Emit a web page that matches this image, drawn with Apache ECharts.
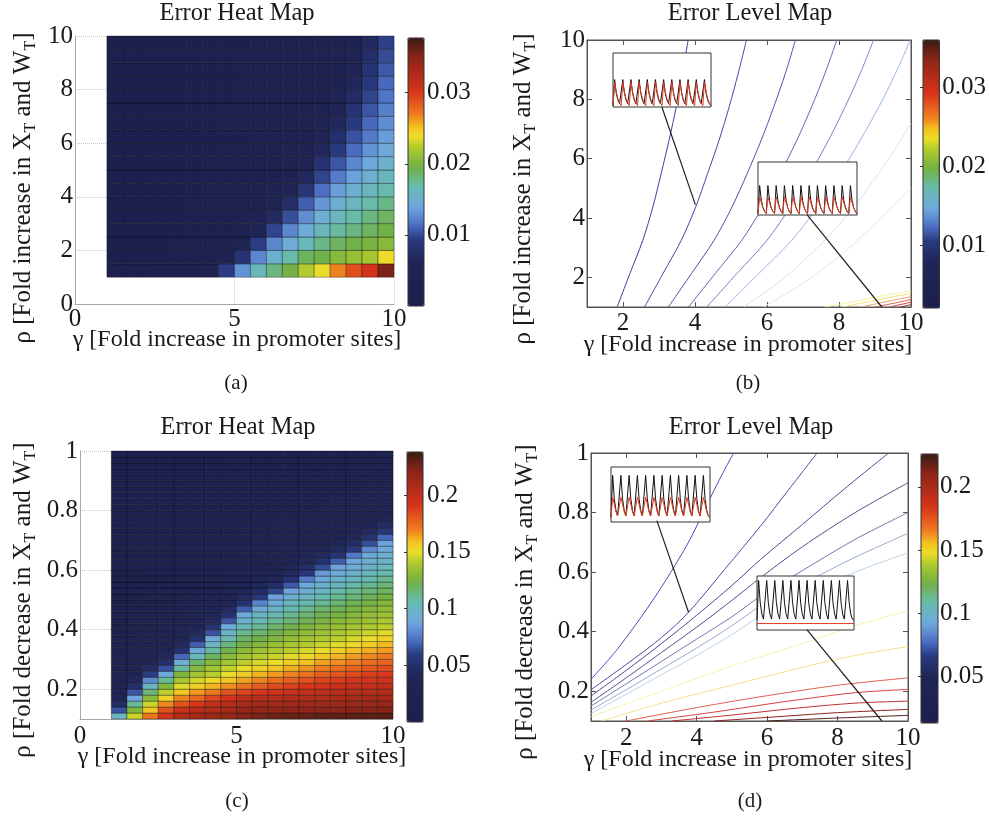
<!DOCTYPE html>
<html>
<head>
<meta charset="utf-8">
<script src="https://cdn.jsdelivr.net/npm/echarts@6/dist/echarts.min.js"></script>
<style>
html,body{margin:0;padding:0;background:#fff;}
#chart{width:989px;height:822px;}
</style>
</head>
<body>
<div id="chart"></div>
<script>
// ---------- grid edges of the two heat maps ----------
const gammaEdges = [1,1.5,2,2.5,3,3.5,4,4.5,5,5.5,6,6.5,7,7.5,8,8.5,9,9.5,10];
const rhoEdgesA = [1,1.5,2,2.5,3,3.5,4,4.5,5,5.5,6,6.5,7,7.5,8,8.5,9,9.5,10];
const rhoEdgesC = [0.1,0.12,0.14,0.16,0.18,0.2,0.22,0.24,0.26,0.28,0.3,0.32,0.34,0.36,0.38,0.4,
  0.42,0.44,0.46,0.48,0.5,0.52,0.54,0.56,0.58,0.6,0.62,0.64,0.66,0.68,0.7,0.72,0.74,0.76,0.78,
  0.8,0.82,0.84,0.86,0.88,0.9,0.92,0.94,0.96,0.98,1.0];

// ---------- panel (a): error, in units of 1e-3; one row per rho cell (bottom to top), one value per gamma cell ----------
const errA = [
  [1.2,1.2,1.4,1.6,1.8,2.2,3.5,9.5,13,16.2,18,19.6,22.2,23.8,26.8,29,30.5,35.5],
  [1.1,1.1,1.3,1.5,1.7,2,2.6,4,8.5,12.5,15,17,19,19.5,20.5,21.2,21.8,24],
  [1,1,1.2,1.4,1.6,1.9,2.3,3,5,9.5,12.5,14.5,16.3,17.8,18.8,19.5,20,20.5],
  [1,1,1.1,1.3,1.5,1.8,2.1,2.6,3.5,6,9.8,12.5,14.5,16,17.2,18,18.8,19.5],
  [1,1,1.1,1.2,1.4,1.7,2,2.4,3,4.5,7.2,10.2,12.8,14.8,16,17,18,18.8],
  [1,1,1,1.2,1.4,1.6,1.9,2.2,2.7,3.4,4.8,7.8,10.8,13.2,15,16,17,17.8],
  [1,1,1,1.1,1.3,1.5,1.8,2.1,2.5,3,4,6,8.8,11.5,13.5,15,16,16.8],
  [1,1,1,1.1,1.2,1.4,1.7,2,2.3,2.7,3.4,4.5,7,9.8,12,13.7,15,16],
  [1,1,1,1,1.2,1.4,1.6,1.9,2.2,2.6,3.1,3.8,5.5,8.3,10.5,12.5,14,15.2],
  [1,1,1,1,1.1,1.3,1.5,1.8,2.1,2.5,2.9,3.5,4.5,6.8,9.2,11.3,13,14.3],
  [1,1,1,1,1.1,1.3,1.5,1.7,2,2.4,2.8,3.3,4,5.8,8,10.3,12,13.5],
  [1,1,1,1,1.1,1.2,1.4,1.6,1.9,2.3,2.7,3.1,3.7,4.8,6.8,9.2,11.2,12.8],
  [1,1,1,1,1,1.2,1.4,1.6,1.9,2.2,2.6,3,3.5,4.2,6,8.3,10.5,12.2],
  [1,1,1,1,1,1.2,1.3,1.5,1.8,2.1,2.5,2.9,3.4,4,5.2,7.4,9.8,11.7],
  [1,1,1,1,1,1.1,1.3,1.5,1.7,2,2.4,2.8,3.3,3.8,4.6,6.6,9.1,11.2],
  [1,1,1,1,1,1.1,1.2,1.4,1.6,1.9,2.3,2.7,3.2,3.7,4.4,6,8.4,10.6],
  [1,1,1,1,1,1.1,1.2,1.4,1.6,1.9,2.2,2.6,3.1,3.6,4.2,5.4,7.8,10.1],
  [1,1,1,1,1,1,1.2,1.3,1.5,1.8,2.1,2.5,3,3.5,4,4.7,7.2,9.6]
];

// ---------- panel (c): error, in units of 1e-3; one column per gamma cell, values from rho = 0.1 upward ----------
const errC = [
  [100,65,48,40,35,31,28,26,24,22,21,20,19,18,17,16,15,14,13,13,12,12,11,11,10,10,10,9,9,9,9,8,8,8,8,8,7,7,7,7,7,7,6,6,6],
  [145,128,110,88,66,50,41,36,32,29,27,25,23,22,21,20,19,18,17,16,15,15,14,13,13,12,12,11,11,11,10,10,10,9,9,9,9,8,8,8,8,8,7,7,7],
  [172,158,145,130,115,98,80,60,47,40,35,32,29,27,25,23,22,21,20,19,18,17,16,15,15,14,13,13,12,12,11,11,11,10,10,10,9,9,9,9,8,8,8,8,8],
  [192,182,168,154,143,128,110,90,65,50,43,38,35,32,29,27,25,23,22,21,20,19,18,17,16,15,14,14,13,12,12,11,11,11,10,10,10,9,9,9,9,8,8,8,8],
  [205,196,182,169,157,148,138,128,109,93,70,52,45,40,36,33,30,28,26,24,22,21,20,19,18,17,16,15,14,14,13,12,12,11,11,11,10,10,10,9,9,9,9,8,8],
  [210,202,190,175,165,155,146,137,129,117,103,90,68,52,45,40,36,33,30,28,26,24,22,21,20,19,18,17,16,15,14,14,13,12,12,11,11,11,10,10,10,9,9,9,9],
  [213,206,199,185,171,161,152,142,137,129,119,109,100,91,65,52,45,40,36,33,30,28,26,24,22,21,20,19,18,17,16,15,14,14,13,12,12,11,11,11,10,10,10,9,9],
  [216,210,204,192,181,167,158,151,144,137,130,122,114,106,98,90,66,52,45,40,36,33,30,28,26,24,22,21,20,19,18,17,16,15,14,14,13,12,12,11,11,11,10,10,10],
  [222,216,209,200,186,173,164,156,150,143,137,130,124,118,111,104,97,90,68,53,46,41,37,34,31,28,26,24,22,21,20,19,18,17,16,15,14,14,13,12,12,11,11,11,10],
  [225,216,210,203,191,179,169,161,154,147,141,135,129,123,117,110,104,98,91,78,58,48,42,38,34,31,29,27,25,23,22,21,20,19,18,17,16,16,15,14,14,13,13,12,12],
  [227,217,211,205,194,184,174,165,158,151,145,139,134,128,122,117,111,104,98,92,86,62,50,44,39,35,32,30,28,26,24,23,22,21,20,19,18,17,16,16,15,14,14,13,13],
  [228,218,212,206,197,187,178,169,162,155,149,143,138,133,128,122,116,111,105,100,94,88,67,53,46,41,37,34,31,29,27,25,23,22,21,20,19,18,17,16,16,15,14,14,13],
  [229,218,212,206,199,190,182,173,166,159,153,147,141,137,132,127,121,116,111,105,100,94,89,76,58,48,42,38,34,31,29,27,25,23,22,21,20,19,18,17,16,16,15,14,14],
  [230,219,213,207,201,193,186,178,170,164,157,151,145,140,135,131,126,121,116,110,105,100,95,90,84,64,52,45,40,36,33,30,28,26,24,22,21,20,19,18,17,16,16,15,14],
  [230,219,213,208,202,195,188,181,174,167,161,155,149,143,139,134,130,125,120,116,111,106,101,96,91,87,68,54,46,41,37,34,31,28,26,24,22,21,20,19,18,17,16,16,15],
  [231,220,214,209,203,197,191,184,177,170,165,159,153,147,142,137,133,129,125,120,115,111,106,101,97,92,88,75,58,48,42,37,34,31,28,26,24,22,21,20,19,18,17,16,16],
  [231,220,215,210,204,198,192,187,180,174,168,162,156,151,145,140,136,133,129,124,120,115,111,106,102,97,93,89,80,64,52,45,40,36,33,30,28,26,24,22,21,20,19,18,17],
  [232,221,216,210,205,200,194,189,183,177,171,165,160,154,149,143,139,135,132,128,124,119,115,111,106,102,98,94,90,86,70,56,47,41,37,34,31,28,26,24,22,21,20,19,18]
];

// ---------- colour-bar ranges and ticks ----------
const rangeA = [0, 0.0377], ticksA = [0.01, 0.02, 0.03];
const rangeB = [0.002, 0.036], ticksB = [0.01, 0.02, 0.03];
const rangeC = [0, 0.238], ticksC = [0.05, 0.1, 0.15, 0.2];
const rangeD = [0.013, 0.226], ticksD = [0.05, 0.1, 0.15, 0.2];

// ---------- panel (b): error level lines [gamma, rho] ----------
const bLevel1 = [[1.84,1],[2.19,2.125],[2.55,3.25],[2.83,4.375],[3.06,5.5],[3.28,6.625],[3.48,7.75],[3.65,8.875],[3.81,10]];
const bLevel2 = [[2.6,1],[3.11,2.125],[3.62,3.25],[4.02,4.375],[4.35,5.5],[4.67,6.625],[4.95,7.75],[5.2,8.875],[5.43,10]];
const bLevel3 = [[3.26,1],[3.9,2.125],[4.53,3.25],[5.03,4.375],[5.45,5.5],[5.84,6.625],[6.19,7.75],[6.51,8.875],[6.79,10]];
const bLevel4 = [[3.82,1],[4.56,2.125],[5.3,3.25],[5.88,4.375],[6.37,5.5],[6.83,6.625],[7.24,7.75],[7.61,8.875],[7.94,10]];
const bLevel5 = [[4.33,1],[5.16,2.125],[6.0,3.25],[6.65,4.375],[7.2,5.5],[7.71,6.625],[8.17,7.75],[8.59,8.875],[8.96,10]];
const bLevel6 = [[4.84,1],[5.77,2.125],[6.69,3.25],[7.41,4.375],[8.03,5.5],[8.59,6.625],[9.11,7.75],[9.57,8.875],[9.98,10]];
const bLevel7 = [[5.35,1],[6.4,1.9],[7.4,3.0],[8.3,4.2],[9.1,5.5],[9.6,6.4],[10,7.2]];
const bLevel8 = [[5.9,1],[7.0,1.8],[8.0,2.7],[9.0,3.8],[10,5.0]];
const bLevel9 = [[7.6,1],[8.5,1.2],[9.3,1.4],[10,1.55]];
const bLevel10 = [[8.1,1],[8.9,1.2],[9.5,1.35],[10,1.45]];
const bLevel11 = [[8.6,1],[9.2,1.15],[10,1.35]];
const bLevel12 = [[9.0,1],[9.5,1.12],[10,1.25]];
const bLevel13 = [[9.4,1],[10,1.16]];
const bLevel14 = [[9.7,1],[10,1.08]];

// ---------- panel (d): error level lines [gamma, rho] ----------
const dLevel1 = [[1,0.24],[1.74,0.34],[2.78,0.51],[3.72,0.69],[4.39,0.85],[4.73,0.93],[5.05,1]];
const dLevel2 = [[1,0.205],[2,0.29],[3,0.38],[3.77,0.465],[4.8,0.61],[5.81,0.754],[6.6,0.875],[7.42,1]];
const dLevel3 = [[1,0.184],[2,0.27],[3,0.36],[4,0.455],[5,0.555],[5.81,0.642],[7,0.76],[8.2,0.88],[9.45,1]];
const dLevel4 = [[1,0.163],[2,0.245],[3,0.33],[4,0.415],[5,0.505],[5.81,0.581],[7,0.685],[8.5,0.8],[10,0.9]];
const dLevel5 = [[1,0.15],[2,0.225],[3,0.3],[4,0.375],[5,0.45],[5.81,0.519],[7,0.605],[8.5,0.71],[10,0.8]];
const dLevel6 = [[1,0.137],[2,0.205],[3,0.275],[4,0.345],[5,0.42],[5.81,0.486],[7,0.56],[8.5,0.65],[10,0.73]];
const dLevel7 = [[1,0.125],[2,0.19],[3,0.255],[4,0.32],[5,0.39],[5.81,0.452],[7,0.52],[8.5,0.6],[10,0.665]];
const dLevel8 = [[1,0.115],[3,0.2],[5,0.285],[7,0.36],[8.5,0.42],[10,0.47]];
const dLevel9 = [[1.3,0.1],[3,0.16],[5,0.22],[7,0.28],[8.5,0.32],[10,0.35]];
const dLevel10 = [[2,0.1],[4,0.145],[6,0.185],[8,0.22],[10,0.245]];
const dLevel11 = [[2.6,0.1],[4.5,0.13],[6.5,0.165],[8.5,0.195],[10,0.206]];
const dLevel12 = [[3.3,0.1],[5,0.12],[7,0.145],[8.5,0.16],[10,0.167]];
const dLevel13 = [[4.5,0.1],[6,0.112],[8,0.128],[10,0.139]];
const dLevel14 = [[6,0.1],[8,0.11],[10,0.119]];

// ---------- pointers from the inset traces to a point of the parameter plane ----------
const bPointer1 = [[3.08,7.74],[4.01,4.45]];
const bPointer2 = [[7.11,4.11],[9.19,1.0]];
const dPointer1 = [[2.87,0.773],[3.77,0.465]];
const dPointer2 = [[7.13,0.407],[9.26,0.1]];

// ---------- inset time traces (arbitrary units) ----------
const insetB1Black = [0.05,1,0.5,0.25,0.12,0.05,1,0.5,0.25,0.12,0.05,1,0.5,0.25,0.12,0.05,1,0.5,0.25,0.12,0.05,1,0.5,0.25,0.12,0.05,1,0.5,0.25,0.12,0.05,1,0.5,0.25,0.12,0.05,1,0.5,0.25,0.12,0.05,1,0.5,0.25,0.12,0.05,1,0.5,0.25,0.12,0.05,1,0.5,0.25,0.12,0.05,1,0.5,0.25,0.12,0.05];
const insetB1Red = [0.05,0.9,0.55,0.3,0.15,0.05,0.9,0.55,0.3,0.15,0.05,0.9,0.55,0.3,0.15,0.05,0.9,0.55,0.3,0.15,0.05,0.9,0.55,0.3,0.15,0.05,0.9,0.55,0.3,0.15,0.05,0.9,0.55,0.3,0.15,0.05,0.9,0.55,0.3,0.15,0.05,0.9,0.55,0.3,0.15,0.05,0.9,0.55,0.3,0.15,0.05,0.9,0.55,0.3,0.15,0.05,0.9,0.55,0.3,0.15,0.05];
const insetB2Black = [0.05,1,0.5,0.25,0.12,0.05,1,0.5,0.25,0.12,0.05,1,0.5,0.25,0.12,0.05,1,0.5,0.25,0.12,0.05,1,0.5,0.25,0.12,0.05,1,0.5,0.25,0.12,0.05,1,0.5,0.25,0.12,0.05,1,0.5,0.25,0.12,0.05,1,0.5,0.25,0.12,0.05,1,0.5,0.25,0.12,0.05,1,0.5,0.25,0.12,0.05,1,0.5,0.25,0.12,0.05];
const insetB2Red = [0.05,0.62,0.42,0.25,0.12,0.05,0.62,0.42,0.25,0.12,0.05,0.62,0.42,0.25,0.12,0.05,0.62,0.42,0.25,0.12,0.05,0.62,0.42,0.25,0.12,0.05,0.62,0.42,0.25,0.12,0.05,0.62,0.42,0.25,0.12,0.05,0.62,0.42,0.25,0.12,0.05,0.62,0.42,0.25,0.12,0.05,0.62,0.42,0.25,0.12,0.05,0.62,0.42,0.25,0.12,0.05,0.62,0.42,0.25,0.12,0.05];
const insetD1Black = [0.1,1,0.5,0.25,0.13,0.1,1,0.5,0.25,0.13,0.1,1,0.5,0.25,0.13,0.1,1,0.5,0.25,0.13,0.1,1,0.5,0.25,0.13,0.1,1,0.5,0.25,0.13,0.1,1,0.5,0.25,0.13,0.1,1,0.5,0.25,0.13,0.1,1,0.5,0.25,0.13,0.1,1,0.5,0.25,0.13,0.1,1,0.5,0.25,0.13,0.1,1,0.5,0.25,0.13,0.1];
const insetD1Red = [0.1,0.53,0.38,0.22,0.13,0.1,0.53,0.38,0.22,0.13,0.1,0.53,0.38,0.22,0.13,0.1,0.53,0.38,0.22,0.13,0.1,0.53,0.38,0.22,0.13,0.1,0.53,0.38,0.22,0.13,0.1,0.53,0.38,0.22,0.13,0.1,0.53,0.38,0.22,0.13,0.1,0.53,0.38,0.22,0.13,0.1,0.53,0.38,0.22,0.13,0.1,0.53,0.38,0.22,0.13,0.1,0.53,0.38,0.22,0.13,0.1];
const insetD2Black = [0.2,1,0.55,0.32,0.22,0.2,1,0.55,0.32,0.22,0.2,1,0.55,0.32,0.22,0.2,1,0.55,0.32,0.22,0.2,1,0.55,0.32,0.22,0.2,1,0.55,0.32,0.22,0.2,1,0.55,0.32,0.22,0.2,1,0.55,0.32,0.22,0.2,1,0.55,0.32,0.22,0.2,1,0.55,0.32,0.22,0.2,1,0.55,0.32,0.22,0.2,1,0.55,0.32,0.22,0.2];
const insetD2Red = [0.13,0.13,0.13,0.13,0.13,0.13,0.13,0.13,0.13,0.13,0.13,0.13,0.13];
const insetYMax = [1.97, 1.8, 1.18, 1.09];

// ---------- styling ----------
const SERIF = "'Liberation Serif','Times New Roman',serif";
const INK = '#1a1a1a';
const cmapStops = [[0,'#1c1f4c'],[0.17,'#1f2556'],[0.25,'#2a3a80'],[0.30,'#4a6cc0'],[0.37,'#70a8e0'],
  [0.445,'#66bcb0'],[0.52,'#72b044'],[0.595,'#b4cc2c'],[0.63,'#ece02a'],[0.67,'#f4c020'],
  [0.71,'#f08020'],[0.80,'#d8341c'],[0.93,'#8a2418'],[1,'#3a1c14']];
function hexRgb(h) { return [1,3,5].map(i => parseInt(h.slice(i, i + 2), 16)); }
function palette(n) {
  const out = [];
  for (let k = 0; k < n; k++) {
    const t = k / (n - 1);
    let s = 0;
    while (s < cmapStops.length - 2 && t > cmapStops[s + 1][0]) s++;
    const a = hexRgb(cmapStops[s][1]), b = hexRgb(cmapStops[s + 1][1]);
    const f = (t - cmapStops[s][0]) / (cmapStops[s + 1][0] - cmapStops[s][0]);
    out.push('rgb(' + a.map((v, i) => Math.round(v + (b[i] - v) * f)).join(',') + ')');
  }
  return out;
}
const jet = palette(61);

// heat cells: [gammaLo, rhoLo, value, gammaHi, rhoHi]
function cellsFromRows(rows, gEdges, rEdges) {
  const out = [];
  rows.forEach((row, j) => row.forEach((v, i) => out.push([gEdges[i], rEdges[j], v / 1000, gEdges[i + 1], rEdges[j + 1]])));
  return out;
}
function cellsFromCols(cols, gEdges, rEdges) {
  const out = [];
  cols.forEach((col, i) => col.forEach((v, j) => out.push([gEdges[i], rEdges[j], v / 1000, gEdges[i + 1], rEdges[j + 1]])));
  return out;
}
function drawCell(params, api) {
  const p0 = api.coord([api.value(0), api.value(1)]);
  const p1 = api.coord([api.value(3), api.value(4)]);
  return {
    type: 'rect',
    shape: { x: p0[0], y: p1[1], width: p1[0] - p0[0], height: p0[1] - p1[1] },
    style: { fill: api.visual('color'), stroke: 'rgba(0,0,0,0.5)', lineWidth: 0.7 }
  };
}

const tickFont = { fontSize: 25, fontFamily: SERIF, color: INK };
const greyAxis = { show: true, onZero: false, lineStyle: { color: '#a8a8a8', width: 1 } };
const boxAxis = { show: true, onZero: false, lineStyle: { color: '#555', width: 1 } };
const dotted = { show: true, lineStyle: { color: '#c4c4c4', type: 'dotted', width: 1 } };

function boxXAxis(grid, pos, vals, showLabel, margin) {
  return { gridIndex: grid, type: 'value', position: pos, min: 1, max: 10,
    axisLine: boxAxis, splitLine: { show: false },
    axisTick: { show: true, inside: true, length: 5, customValues: vals, lineStyle: { color: '#555' } },
    axisLabel: Object.assign({ show: showLabel, customValues: vals, margin: margin }, tickFont) };
}
function boxYAxis(grid, pos, min, max, vals, showLabel) {
  return { gridIndex: grid, type: 'value', position: pos, min: min, max: max,
    axisLine: boxAxis, splitLine: { show: false },
    axisTick: { show: true, inside: true, length: 5, customValues: vals, lineStyle: { color: '#555' } },
    axisLabel: Object.assign({ show: showLabel, customValues: vals, margin: 2 }, tickFont) };
}
function barYAxis(grid, range, vals, margin) {
  return { gridIndex: grid, type: 'value', position: 'right', min: range[0], max: range[1], z: 6,
    axisLine: { show: false }, splitLine: { show: false },
    axisTick: { show: true, inside: true, length: 3, customValues: vals, lineStyle: { color: '#333' } },
    axisLabel: Object.assign({ customValues: vals, margin: margin }, tickFont) };
}
const hiddenX = (g, min, max) => ({ gridIndex: g, type: 'value', min: min, max: max, show: false });
const hiddenY = (g, min, max) => ({ gridIndex: g, type: 'value', min: min, max: max, show: false });

function levelLine(data, color, xi, yi) {
  return { type: 'line', xAxisIndex: xi, yAxisIndex: yi, data: data, symbol: 'none', smooth: 0.3,
    z: 1, silent: true, lineStyle: { color: color, width: 1 } };
}
function pointer(data, xi, yi) {
  return { type: 'line', xAxisIndex: xi, yAxisIndex: yi, data: data, symbol: 'none', z: 5,
    silent: true, lineStyle: { color: '#222', width: 1.2 } };
}
function trace(values, step, color, idx) {
  return { type: 'line', xAxisIndex: idx, yAxisIndex: idx, data: values.map((v, k) => [k * step, v]),
    symbol: 'none', z: 4, silent: true, lineStyle: { color: color, width: 1 } };
}

const bLevels = [[bLevel1,'#3c3ca8'],[bLevel2,'#4444b0'],[bLevel3,'#4c50b4'],[bLevel4,'#5a64b8'],
  [bLevel5,'#7482c4'],[bLevel6,'#98b4dc'],[bLevel7,'#cfe6ee'],[bLevel8,'#dcecd4'],[bLevel9,'#f4f0a0'],
  [bLevel10,'#f4e070'],[bLevel11,'#f0a060'],[bLevel12,'#e06050'],[bLevel13,'#c84040'],[bLevel14,'#803028']];
const dLevels = [[dLevel1,'#4a4ac0'],[dLevel2,'#4a4aa8'],[dLevel3,'#4a4a90'],[dLevel4,'#50508a'],
  [dLevel5,'#7078b0'],[dLevel6,'#98a8d0'],[dLevel7,'#c0d4e8'],[dLevel8,'#f6f2b0'],[dLevel9,'#f4e08a'],
  [dLevel10,'#e06050'],[dLevel11,'#d84040'],[dLevel12,'#c03030'],[dLevel13,'#902020'],[dLevel14,'#502018']];

const series = [
  { type: 'custom', xAxisIndex: 0, yAxisIndex: 0, renderItem: drawCell, z: 2, silent: true,
    encode: { x: [0, 3], y: [1, 4] }, data: cellsFromRows(errA, gammaEdges, rhoEdgesA) },
  { type: 'custom', xAxisIndex: 3, yAxisIndex: 3, renderItem: drawCell, z: 2, silent: true,
    encode: { x: [0, 3], y: [1, 4] }, data: cellsFromCols(errC, gammaEdges, rhoEdgesC) },
  { type: 'scatter', xAxisIndex: 7, yAxisIndex: 7, data: [] },
  { type: 'scatter', xAxisIndex: 9, yAxisIndex: 9, data: [] }
];
bLevels.forEach(([d, c]) => series.push(levelLine(d, c, 1, 1)));
dLevels.forEach(([d, c]) => series.push(levelLine(d, c, 4, 4)));
series.push(pointer(bPointer1, 1, 1), pointer(bPointer2, 1, 1), pointer(dPointer1, 4, 4), pointer(dPointer2, 4, 4));
series.push(trace(insetB1Black, 1, '#111', 10), trace(insetB1Red, 1, '#e03a20', 10));
series.push(trace(insetB2Black, 1, '#111', 11), trace(insetB2Red, 1, '#e03a20', 11));
series.push(trace(insetD1Black, 1, '#111', 12), trace(insetD1Red, 1, '#e03a20', 12));
series.push(trace(insetD2Black, 1, '#111', 13), trace(insetD2Red, 5, '#e03a20', 13));

function vm(idx, range, left, top, w, h, dim) {
  return { type: 'continuous', seriesIndex: idx, dimension: dim, min: range[0], max: range[1],
    left: left, top: top, itemWidth: w, itemHeight: h, padding: 0, calculable: false,
    orient: 'vertical', z: 1, inRange: { color: jet }, hoverLink: false };
}

function txt(x, y, text, size, extra) {
  return { type: 'text', x: x, y: y, z: 20, silent: true,
    style: Object.assign({ text: text, fontSize: size, fontFamily: SERIF, fill: INK, align: 'center', verticalAlign: 'middle' }, extra || {}) };
}
const subRich = {
  m: { fontSize: 25, fontFamily: SERIF, fill: INK, lineHeight: 32 },
  s: { fontSize: 16, fontFamily: SERIF, fill: INK, lineHeight: 16, verticalAlign: 'bottom' }
};
function yName(x, y, word) {
  return { type: 'text', x: x, y: y, rotation: Math.PI / 2, z: 20, silent: true,
    style: { text: '{m|ρ [Fold ' + word + ' in X}{s|T}{m| and W}{s|T}{m|]}', rich: subRich, align: 'center', verticalAlign: 'middle' } };
}
const gammaName = 'γ [Fold increase in promoter sites]';

const option = {
  animation: false,
  backgroundColor: '#fff',
  textStyle: { fontFamily: SERIF },
  grid: [
    { left: 75, top: 36, width: 319, height: 268 },
    { left: 587, top: 40, width: 324, height: 267, show: true, borderColor: '#555', borderWidth: 1, backgroundColor: 'transparent' },
    { left: 80, top: 451, width: 313, height: 268 },
    { left: 591, top: 453, width: 317, height: 268, show: true, borderColor: '#555', borderWidth: 1, backgroundColor: 'transparent' },
    { left: 408, top: 38, width: 16, height: 268, show: true, borderColor: '#333', borderWidth: 1, backgroundColor: 'transparent', z: 5 },
    { left: 923, top: 40, width: 17, height: 268, show: true, borderColor: '#333', borderWidth: 1, backgroundColor: 'transparent', z: 5 },
    { left: 407, top: 452, width: 16, height: 270, show: true, borderColor: '#333', borderWidth: 1, backgroundColor: 'transparent', z: 5 },
    { left: 921, top: 454, width: 17, height: 269, show: true, borderColor: '#333', borderWidth: 1, backgroundColor: 'transparent', z: 5 },
    { left: 613, top: 53, width: 98, height: 54, show: true, borderColor: '#333', borderWidth: 1, backgroundColor: '#fff', z: 3 },
    { left: 758, top: 162, width: 99, height: 53, show: true, borderColor: '#333', borderWidth: 1, backgroundColor: '#fff', z: 3 },
    { left: 611, top: 467, width: 99, height: 55, show: true, borderColor: '#333', borderWidth: 1, backgroundColor: '#fff', z: 3 },
    { left: 757, top: 576, width: 97, height: 54, show: true, borderColor: '#333', borderWidth: 1, backgroundColor: '#fff', z: 3 }
  ],
  xAxis: [
    { gridIndex: 0, type: 'value', min: 0, max: 10, interval: 5, axisLine: greyAxis, axisTick: { show: false },
      splitLine: dotted, axisLabel: Object.assign({ margin: 3 }, tickFont) },
    boxXAxis(1, 'bottom', [2,4,6,8,10], true, 4),
    boxXAxis(1, 'top', [2,4,6,8,10], false, 4),
    { gridIndex: 2, type: 'value', min: 0, max: 10, interval: 5, axisLine: greyAxis, axisTick: { show: false },
      splitLine: dotted, axisLabel: Object.assign({ margin: 5 }, tickFont) },
    boxXAxis(3, 'bottom', [2,4,6,8,10], true, 5),
    boxXAxis(3, 'top', [2,4,6,8,10], false, 5),
    hiddenX(4, 0, 1), hiddenX(5, 0, 1), hiddenX(6, 0, 1), hiddenX(7, 0, 1),
    hiddenX(8, 0, 60), hiddenX(9, 0, 60), hiddenX(10, 0, 60), hiddenX(11, 0, 60)
  ],
  yAxis: [
    { gridIndex: 0, type: 'value', min: 0, max: 10, interval: 2, axisLine: greyAxis, axisTick: { show: false },
      splitLine: dotted, axisLabel: Object.assign({ margin: 2 }, tickFont) },
    boxYAxis(1, 'left', 1, 10, [2,4,6,8,10], true),
    boxYAxis(1, 'right', 1, 10, [2,4,6,8,10], false),
    { gridIndex: 2, type: 'value', min: 0.1, max: 1, axisLine: greyAxis,
      axisTick: { show: false, customValues: [0.2,0.4,0.6,0.8,1] },
      splitLine: dotted, axisLabel: Object.assign({ margin: 2, customValues: [0.2,0.4,0.6,0.8,1] }, tickFont) },
    boxYAxis(3, 'left', 0.1, 1, [0.2,0.4,0.6,0.8,1], true),
    boxYAxis(3, 'right', 0.1, 1, [0.2,0.4,0.6,0.8,1], false),
    barYAxis(4, rangeA, ticksA, 3),
    barYAxis(5, rangeB, ticksB, 3),
    barYAxis(6, rangeC, ticksC, 4),
    barYAxis(7, rangeD, ticksD, 2),
    hiddenY(8, 0, insetYMax[0]), hiddenY(9, 0, insetYMax[1]), hiddenY(10, 0, insetYMax[2]), hiddenY(11, 0, insetYMax[3])
  ],
  visualMap: [
    vm(0, rangeA, 408, 38, 16, 268, 2),
    vm(1, rangeC, 407, 452, 16, 270, 2),
    vm(2, rangeB, 923, 40, 17, 268, 1),
    vm(3, rangeD, 921, 454, 17, 269, 1)
  ],
  series: series,
  graphic: [
    txt(237, 14, 'Error Heat Map', 24.5),
    txt(750, 14, 'Error Level Map', 24.5),
    txt(238, 428, 'Error Heat Map', 24.5),
    txt(751, 428, 'Error Level Map', 24.5),
    txt(237, 340, gammaName, 24),
    txt(748, 345, gammaName, 24),
    txt(242, 757, gammaName, 24),
    txt(748, 760, gammaName, 24),
    txt(236, 383, '(a)', 21),
    txt(748, 383, '(b)', 21),
    txt(237, 801, '(c)', 21),
    txt(750, 801, '(d)', 21),
    yName(23, 188, 'increase'),
    yName(523, 189, 'increase'),
    yName(23, 600, 'decrease'),
    yName(525, 602, 'decrease')
  ]
};

const chart = echarts.init(document.getElementById('chart'), null, { renderer: 'canvas' });
chart.setOption(option);
</script>
</body>
</html>
